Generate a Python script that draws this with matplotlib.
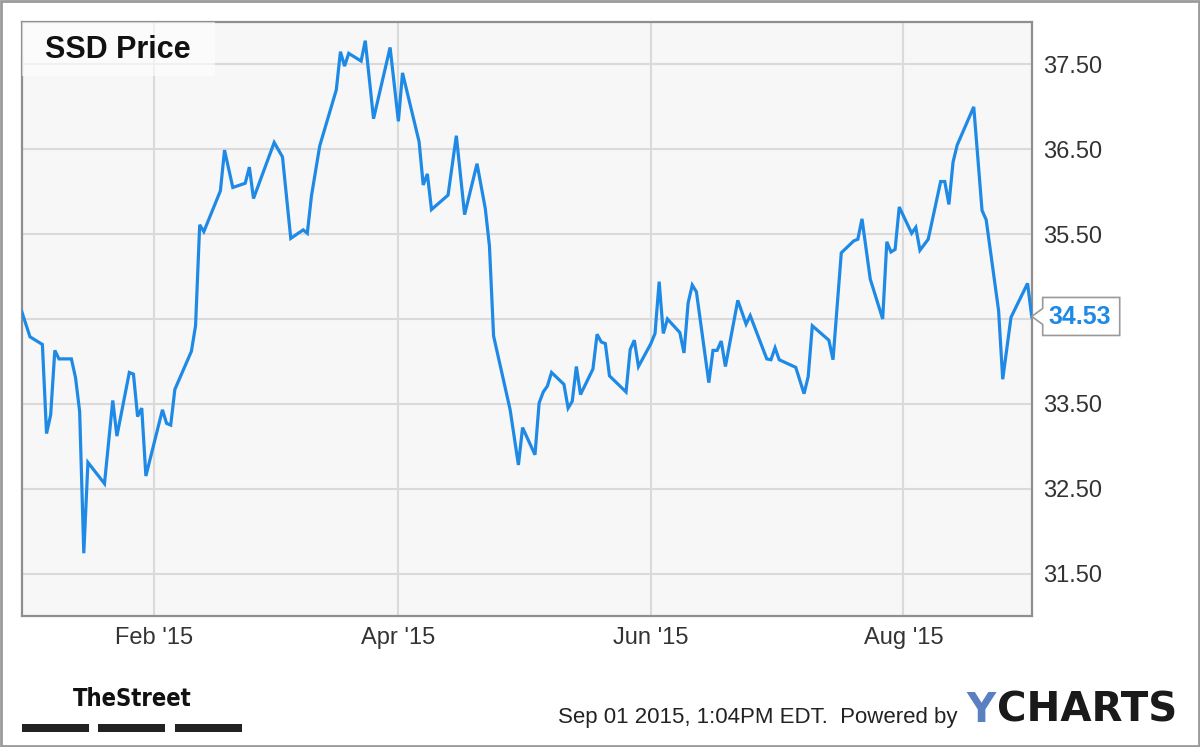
import matplotlib
matplotlib.use("Agg")
import matplotlib.pyplot as plt
import matplotlib.dates as mdates
from matplotlib import font_manager
from matplotlib.patches import Polygon, Rectangle
from matplotlib.transforms import IdentityTransform
import pandas as pd

# SSD closing prices
dates = [
    "2014-12-31", "2015-01-02", "2015-01-05", "2015-01-06", "2015-01-07", "2015-01-08", "2015-01-09",
    "2015-01-12", "2015-01-13", "2015-01-14", "2015-01-15", "2015-01-16", "2015-01-20", "2015-01-22",
    "2015-01-23", "2015-01-26", "2015-01-27", "2015-01-28", "2015-01-29", "2015-01-30", "2015-02-03",
    "2015-02-04", "2015-02-05", "2015-02-06", "2015-02-10", "2015-02-11", "2015-02-12", "2015-02-13",
    "2015-02-17", "2015-02-18", "2015-02-20", "2015-02-23", "2015-02-24", "2015-02-25", "2015-03-02",
    "2015-03-04", "2015-03-06", "2015-03-09", "2015-03-10", "2015-03-11", "2015-03-13", "2015-03-17",
    "2015-03-18", "2015-03-19", "2015-03-20", "2015-03-23", "2015-03-24", "2015-03-26", "2015-03-30",
    "2015-04-01", "2015-04-02", "2015-04-06", "2015-04-07", "2015-04-08", "2015-04-09", "2015-04-13",
    "2015-04-15", "2015-04-17", "2015-04-20", "2015-04-22", "2015-04-23", "2015-04-24", "2015-04-28",
    "2015-04-30", "2015-05-01", "2015-05-04", "2015-05-05", "2015-05-06", "2015-05-07", "2015-05-08",
    "2015-05-11", "2015-05-12", "2015-05-13", "2015-05-14", "2015-05-15", "2015-05-18", "2015-05-19",
    "2015-05-20", "2015-05-21", "2015-05-22", "2015-05-26", "2015-05-27", "2015-05-28", "2015-05-29",
    "2015-06-01", "2015-06-02", "2015-06-03", "2015-06-04", "2015-06-05", "2015-06-08", "2015-06-09",
    "2015-06-10", "2015-06-11", "2015-06-12", "2015-06-15", "2015-06-16", "2015-06-17", "2015-06-18",
    "2015-06-19", "2015-06-22", "2015-06-24", "2015-06-25", "2015-06-29", "2015-06-30", "2015-07-01",
    "2015-07-02", "2015-07-06", "2015-07-08", "2015-07-09", "2015-07-10", "2015-07-14", "2015-07-15",
    "2015-07-17", "2015-07-20", "2015-07-21", "2015-07-22", "2015-07-24", "2015-07-27", "2015-07-28",
    "2015-07-29", "2015-07-30", "2015-07-31", "2015-08-03", "2015-08-04", "2015-08-05", "2015-08-07",
    "2015-08-10", "2015-08-11", "2015-08-12", "2015-08-13", "2015-08-14", "2015-08-18", "2015-08-20",
    "2015-08-21", "2015-08-24", "2015-08-25", "2015-08-27", "2015-08-31", "2015-09-01",
]
prices = [
    34.59, 34.29, 34.20, 33.15, 33.37, 34.13, 34.03, 34.03, 33.81, 33.41,
    31.74, 32.81, 32.56, 33.54, 33.12, 33.87, 33.85, 33.35, 33.45, 32.65,
    33.43, 33.27, 33.25, 33.67, 34.12, 34.42, 35.61, 35.53, 36.01, 36.49,
    36.05, 36.10, 36.29, 35.92, 36.58, 36.41, 35.45, 35.55, 35.51, 35.95,
    36.54, 37.20, 37.65, 37.48, 37.63, 37.54, 37.78, 36.86, 37.70, 36.83,
    37.40, 36.59, 36.08, 36.21, 35.79, 35.96, 36.66, 35.73, 36.33, 35.80,
    35.36, 34.30, 33.43, 32.78, 33.22, 32.90, 33.51, 33.64, 33.71, 33.87,
    33.73, 33.45, 33.53, 33.94, 33.61, 33.91, 34.32, 34.23, 34.21, 33.83,
    33.64, 34.14, 34.25, 33.94, 34.21, 34.33, 34.94, 34.33, 34.50, 34.34,
    34.10, 34.69, 34.90, 34.82, 33.75, 34.13, 34.13, 34.24, 33.94, 34.72,
    34.44, 34.54, 34.03, 34.02, 34.16, 34.02, 33.93, 33.62, 33.82, 34.42,
    34.25, 34.02, 35.28, 35.42, 35.44, 35.68, 34.97, 34.50, 35.41, 35.29,
    35.32, 35.82, 35.51, 35.58, 35.31, 35.44, 36.12, 36.12, 35.85, 36.35,
    36.55, 37.00, 35.78, 35.67, 34.60, 33.79, 34.52, 34.92, 34.53,
]
y_ticks = [31.5, 32.5, 33.5, 34.5, 35.5, 36.5, 37.5]
y_labels = ["31.50", "32.50", "33.50", "", "35.50", "36.50", "37.50"]  # 34.50 sits under the callout
x_range = ["2014-12-31", "2015-09-01"]
y_range = [31.0, 38.0]

title = "SSD Price"
footer = "Sep 01 2015, 1:04PM EDT.  Powered by"

line_blue = "#1e8ae6"
grid_gray = "#dadada"
text_gray = "#333333"

plt.rcParams["font.family"] = ["Liberation Sans", "DejaVu Sans"]

# look for a condensed bold face for the TheStreet logo text
logo_font = None
for f in font_manager.fontManager.ttflist:
    if ("Narrow" in f.name or f.stretch in ("condensed", "semi-condensed")) and f.weight in ("bold", 700):
        logo_font = font_manager.FontProperties(fname=f.fname)
        break

x = pd.to_datetime(dates)

fig = plt.figure(figsize=(12, 7.47), dpi=100)
ax = fig.add_axes([21.7 / 1200, 1 - 616 / 747, 1010 / 1200, 594 / 747])
ax.set_facecolor("#f7f7f7")

ax.plot(x, prices, color=line_blue, lw=2.3, solid_joinstyle="miter", zorder=3)

ax.set_xlim(pd.to_datetime(x_range[0]), pd.to_datetime(x_range[1]))
ax.set_ylim(*y_range)
ax.set_yticks(y_ticks)
ax.set_yticklabels(y_labels)
ax.yaxis.tick_right()
ax.xaxis.set_major_locator(mdates.MonthLocator(bymonth=[2, 4, 6, 8]))
ax.xaxis.set_major_formatter(mdates.DateFormatter("%b '%y"))
ax.tick_params(axis="both", length=0, labelsize=17, labelcolor=text_gray)
ax.tick_params(axis="y", pad=8)
ax.tick_params(axis="x", pad=8)
ax.set_axisbelow(True)
ax.grid(True, color=grid_gray, lw=1.5)
for s in ax.spines.values():
    s.set_color("#8f8f8f")
    s.set_linewidth(1.6)

# title box in the top-left corner
ax.add_patch(Rectangle((0, 1 - 54 / 594), 193 / 1010, 54 / 594, transform=ax.transAxes,
                       facecolor="white", alpha=0.6, edgecolor="none", zorder=4))
ax.text(23 / 1010, 1 - 28 / 594, title, transform=ax.transAxes, fontsize=22,
        fontweight="bold", color="#111111", va="center", ha="left", zorder=5)

# last-price callout
fig.canvas.draw()
px, py = ax.transData.transform((mdates.date2num(x[-1]), prices[-1]))
px = ax.transAxes.transform((1, 0))[0]
shape = [(px, py), (px + 11, py + 8), (px + 11, py + 19), (px + 88, py + 19),
         (px + 88, py - 19), (px + 11, py - 19), (px + 11, py - 8)]
ax.add_patch(Polygon(shape, closed=True, transform=IdentityTransform(), facecolor="white",
                     edgecolor="#9a9a9a", lw=1.2, clip_on=False, zorder=6))
ax.annotate(f"{prices[-1]:.2f}", xy=(x[-1], prices[-1]), xytext=(48, -1),
            textcoords="offset pixels", ha="center", va="center", fontsize=18,
            fontweight="bold", color=line_blue, annotation_clip=False, zorder=7)

# footer
if logo_font is not None:
    logo_font.set_size(17)
    fig.text(132 / 1200, 1 - 699 / 747, "TheStreet", fontproperties=logo_font,
             color="#111111", ha="center", va="center")
else:
    fig.text(132 / 1200, 1 - 699 / 747, "TheStreet", fontsize=17, fontweight="bold",
             color="#111111", ha="center", va="center")
for bx in [21.5, 98, 174.5]:
    fig.add_artist(Rectangle((bx / 1200, 1 - 732 / 747), 67 / 1200, 8 / 747,
                             transform=fig.transFigure, facecolor="#222222", edgecolor="none"))
fig.text(958 / 1200, 1 - 718 / 747, footer, fontsize=16, color="#222222", ha="right", va="center")
fig.text(966 / 1200, 1 - 711 / 747, "Y", family="DejaVu Sans", fontsize=29, fontweight="bold",
         color="#5b80c2", ha="left", va="center")
fig.text(1177 / 1200, 1 - 711 / 747, "CHARTS", family="DejaVu Sans", fontsize=29,
         fontweight="bold", color="#1a1a1a", ha="right", va="center")

# outer frame
fig.add_artist(Rectangle((0.001, 0.002), 0.998, 0.996, transform=fig.transFigure,
                         facecolor="none", edgecolor="#9a9a9a", lw=2))

fig.savefig("out.png", dpi=100, facecolor="white")
